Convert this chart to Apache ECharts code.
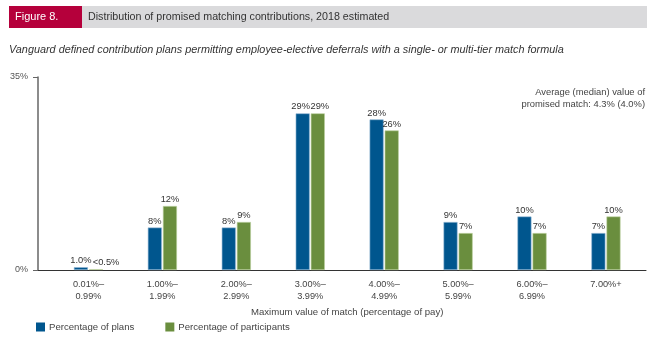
<!DOCTYPE html>
<html><head><meta charset="utf-8">
<script src="https://cdn.jsdelivr.net/npm/echarts@6/dist/echarts.min.js"></script>
<style>html,body{margin:0;padding:0;background:#fff}#c{width:658px;height:337px}</style>
</head><body><div id="c"></div>
<script>
const categories = ["0.01%–\n0.99%","1.00%–\n1.99%","2.00%–\n2.99%","3.00%–\n3.99%","4.00%–\n4.99%","5.00%–\n5.99%","6.00%–\n6.99%","7.00%+"];
const plans = [0.5, 7.7, 7.7, 28.4, 27.3, 8.7, 9.7, 6.7];
const participants = [0.15, 11.6, 8.7, 28.4, 25.3, 6.7, 6.7, 9.7];
const planLabels = ["1.0%","8%","8%","29%","28%","9%","10%","7%"];
const partLabels = ["<0.5%","12%","9%","29%","26%","7%","7%","10%"];
const yTicks = [0, 35];

const FONT = '"Liberation Sans", Arial, sans-serif';
const chart = echarts.init(document.getElementById('c'), null, {renderer:'canvas'});

// label nudges to keep side-by-side labels from colliding
const planNudge = {3:[-2,0]};
const partNudge = {0:[10,0], 3:[2,0]};

function mkData(vals, labels, nudge){
  return vals.map((v,i)=>{
    const d = {value:v, label:{formatter:labels[i]}};
    if (nudge[i]) d.label.offset = nudge[i];
    return d;
  });
}

const barLabel = {show:true, position:'top', distance:2, color:'#333', fontSize:9.3, fontFamily:FONT};

chart.setOption({
  animation:false,
  textStyle:{fontFamily:FONT},
  graphic:[
    {type:'rect', shape:{x:9,y:6,width:73,height:22}, style:{fill:'#B5003B'}},
    {type:'rect', shape:{x:82,y:6,width:565,height:22}, style:{fill:'#DADADC'}},
    {type:'text', x:15, y:17, style:{text:'Figure 8.', fill:'#fff', font:'11px '+FONT, textVerticalAlign:'middle'}},
    {type:'text', x:88, y:17, style:{text:'Distribution of promised matching contributions, 2018 estimated', fill:'#333', font:'10.7px '+FONT, textVerticalAlign:'middle'}},
    {type:'text', x:9, y:50, style:{text:'Vanguard defined contribution plans permitting employee-elective deferrals with a single- or multi-tier match formula', fill:'#333', font:'italic 10.85px '+FONT, textVerticalAlign:'middle'}},
    {type:'text', x:645, y:86, style:{text:'Average (median) value of\npromised match: 4.3% (4.0%)', fill:'#444', font:'9.4px '+FONT, textAlign:'right', lineHeight:12}}
  ],
  legend:{
    left:36, top:322, padding:0, itemWidth:9, itemHeight:9, itemGap:31, icon:'rect',
    itemStyle:{borderWidth:0},
    textStyle:{fontSize:9.6, color:'#444', fontFamily:FONT, padding:[0,0,0,-1]},
    data:['Percentage of plans','Percentage of participants']
  },
  grid:[
    {left:51.5, width:591.4, top:77, height:193},
    {left:38, right:12, top:77, height:193}
  ],
  xAxis:[
    {type:'category', gridIndex:0, data:categories,
     axisLine:{show:false}, axisTick:{show:false},
     axisLabel:{color:'#444', fontSize:9.2, lineHeight:12, margin:8, fontFamily:FONT},
     name:'Maximum value of match (percentage of pay)', nameLocation:'middle', nameGap:37,
     nameTextStyle:{color:'#444', fontSize:9.6, fontFamily:FONT}},
    {type:'value', gridIndex:1, min:0, max:1, axisLabel:{show:false}, axisTick:{show:false}, splitLine:{show:false},
     axisLine:{show:true, lineStyle:{color:'#333', width:1}}}
  ],
  yAxis:[
    {type:'value', gridIndex:0, min:0, max:35, show:false, splitLine:{show:false}},
    {type:'value', gridIndex:1, min:0, max:35, interval:35,
     axisLine:{show:true, lineStyle:{color:'#666', width:1.5}},
     axisTick:{show:true, length:5, lineStyle:{color:'#666'}},
     splitLine:{show:false},
     axisLabel:{color:'#555', fontSize:9, margin:10, fontFamily:FONT, formatter:v=> yTicks.includes(v) ? v+'%' : ''}}
  ],
  series:[
    {name:'Percentage of plans', type:'bar', xAxisIndex:0, yAxisIndex:0, barWidth:14, barGap:'8%',
     itemStyle:{color:'#00568E', borderColor:'#8FB5D3', borderWidth:0.6},
     label:barLabel, data:mkData(plans, planLabels, planNudge)},
    {name:'Percentage of participants', type:'bar', xAxisIndex:0, yAxisIndex:0, barWidth:14,
     itemStyle:{color:'#6A8E3E', borderColor:'#B9CF9C', borderWidth:0.6},
     label:barLabel, data:mkData(participants, partLabels, partNudge)}
  ]
});
</script></body></html>
